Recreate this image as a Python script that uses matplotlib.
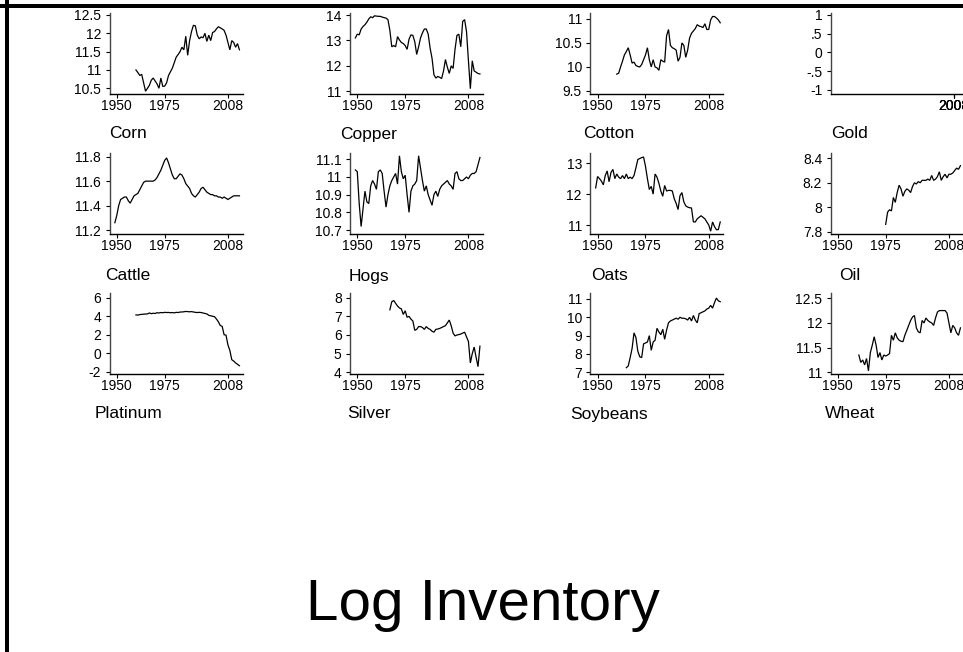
import numpy as np
import matplotlib
matplotlib.use("Agg")
import matplotlib.pyplot as plt
from matplotlib.patches import Rectangle

# ---------------- data ----------------
names = ["Corn", "Copper", "Cotton", "Gold",
         "Cattle", "Hogs", "Oats", "Oil",
         "Platinum", "Silver", "Soybeans", "Wheat"]

xtick_years = [1950, 1975, 2008]

p1_start = 1960
p1_vals = [11.00, 10.93, 10.85, 10.88, 10.65, 10.42, 10.50, 10.58, 10.72, 10.78, 10.70,
           10.62, 10.50, 10.78, 10.55, 10.56, 10.65, 10.85, 10.95, 11.05, 11.20, 11.35, 11.42,
           11.50, 11.62, 11.55, 11.92, 11.40, 11.80, 12.05, 12.22, 12.20, 11.95,
           11.85, 11.90, 11.88, 12.00, 11.78, 11.95, 11.80, 12.02, 12.05, 12.12,
           12.18, 12.15, 12.12, 12.08, 11.95, 11.75, 11.55, 11.80, 11.75, 11.62, 11.72, 11.55]
p1_ticks = [10.5, 11, 11.5, 12, 12.5]

p2_start = 1949
p2_vals = [13.10, 13.25, 13.22, 13.45, 13.55, 13.62, 13.72, 13.85, 13.93, 13.90, 13.97,
           13.96, 13.95, 13.95, 13.92, 13.90, 13.88, 13.82, 13.40, 12.75, 12.80, 12.75,
           13.15, 13.02, 12.92, 12.88, 12.80, 12.65, 13.05, 13.22, 13.20, 12.95, 12.45,
           12.75, 13.10, 13.30, 13.45, 13.45, 13.25, 12.70, 12.30, 11.65, 11.52, 11.58, 11.55,
           11.50, 11.80, 12.25, 11.95, 11.70, 12.00, 11.90, 12.65, 13.20, 13.25,
           12.75, 13.75, 13.82, 13.35, 12.20, 11.10, 12.20, 11.80, 11.75, 11.70, 11.68]
p2_ticks = [11, 12, 13, 14]

p3_start = 1960
p3_vals = [9.85, 9.87, 10.00, 10.12, 10.25, 10.32, 10.40, 10.25, 10.08, 10.10,
           10.03, 10.01, 10.00, 10.05, 10.15, 10.25, 10.40, 10.15, 10.00, 10.15, 10.00,
           9.98, 9.93, 10.15, 10.12, 10.10, 10.65, 10.78, 10.45, 10.40, 10.38, 10.35,
           10.12, 10.20, 10.50, 10.45, 10.20, 10.35, 10.60, 10.70, 10.75, 10.80, 10.88,
           10.85, 10.84, 10.82, 10.90, 10.78, 10.78, 10.98, 11.05, 11.05, 11.02, 10.98, 10.92]
p3_ticks = [9.5, 10, 10.5, 11]

p4_start = 1950
p4_vals = []
p4_ticks = [-1, -0.5, 0, 0.5, 1]

p5_start = 1949
p5_vals = [11.26, 11.32, 11.40, 11.45, 11.46, 11.47, 11.47, 11.44, 11.42, 11.45,
           11.48, 11.49, 11.50, 11.53, 11.56, 11.59, 11.60, 11.60, 11.60, 11.60, 11.60, 11.61,
           11.63, 11.66, 11.69, 11.73, 11.77, 11.79, 11.75, 11.70, 11.65, 11.62,
           11.62, 11.64, 11.66, 11.65, 11.62, 11.58, 11.56, 11.54, 11.50, 11.48, 11.47,
           11.49, 11.51, 11.54, 11.55, 11.53, 11.51, 11.50, 11.49, 11.49, 11.48,
           11.48, 11.47, 11.47, 11.46, 11.47, 11.46, 11.45, 11.46, 11.47, 11.48, 11.48, 11.48, 11.48]
p5_ticks = [11.2, 11.4, 11.6, 11.8]

p6_start = 1949
p6_vals = [11.04, 11.03, 10.85, 10.72, 10.82, 10.92, 10.86, 10.85, 10.95, 10.98, 10.96,
           10.93, 11.03, 11.04, 11.02, 10.92, 10.83, 10.90, 10.95, 10.98, 11.00, 11.02,
           10.96, 11.12, 11.03, 10.99, 11.01, 10.90, 10.80, 10.92, 10.95, 10.96, 10.98,
           11.12, 11.05, 10.98, 10.92, 10.95, 10.90, 10.87, 10.84, 10.90, 10.92,
           10.89, 10.93, 10.95, 10.96, 10.97, 10.98, 10.96, 10.95, 10.93, 11.02, 11.03,
           10.99, 10.98, 10.98, 10.99, 11.00, 10.99, 11.01, 11.02, 11.02, 11.03, 11.07, 11.11]
p6_ticks = [10.7, 10.8, 10.9, 11, 11.1]

p7_start = 1949
p7_vals = [12.20, 12.57, 12.50, 12.42, 12.30, 12.60, 12.75, 12.40, 12.70, 12.80,
           12.50, 12.65, 12.55, 12.50, 12.60, 12.50, 12.65, 12.50, 12.55, 12.50, 12.60,
           12.85, 13.12, 13.15, 13.18, 13.20, 12.90, 12.50, 12.15, 12.25, 12.00, 12.65,
           12.55, 12.35, 12.10, 11.93, 12.28, 12.10, 12.12, 12.12, 12.10, 11.85, 11.70,
           11.50, 11.95, 12.05, 11.75, 11.62, 11.58, 11.56, 11.55, 11.10, 11.10, 11.20, 11.25,
           11.30, 11.25, 11.20, 11.10, 11.00, 10.80, 11.10, 10.95, 10.85, 10.85, 11.10]
p7_ticks = [11, 12, 13]

p8_start = 1975
p8_vals = [7.86, 7.96, 7.98, 7.97, 8.08, 8.04, 8.12, 8.18, 8.15, 8.09,
           8.13, 8.15, 8.14, 8.12, 8.17, 8.20, 8.19, 8.21, 8.20, 8.22, 8.22, 8.22,
           8.23, 8.22, 8.26, 8.22, 8.23, 8.25, 8.29, 8.22, 8.25, 8.27,
           8.24, 8.27, 8.27, 8.28, 8.30, 8.32, 8.31, 8.34]
p8_ticks = [7.8, 8, 8.2, 8.4]

p9_start = 1960
p9_vals = [4.15, 4.12, 4.18, 4.20, 4.22, 4.24, 4.25, 4.35, 4.28, 4.32, 4.30,
           4.38, 4.35, 4.40, 4.38, 4.42, 4.40, 4.41, 4.38, 4.40, 4.36, 4.42,
           4.40, 4.45, 4.46, 4.48, 4.52, 4.50, 4.48, 4.50, 4.46, 4.42, 4.40, 4.42,
           4.40, 4.35, 4.30, 4.25, 4.10, 4.05, 4.00, 3.95, 3.70, 3.40,
           3.00, 2.90, 2.00, 1.95, 0.90, 0.30, -0.70, -0.85, -1.05, -1.20, -1.35]
p9_ticks = [-2, 0, 2, 4, 6]

p10_start = 1967
p10_vals = [7.35, 7.78, 7.85, 7.70, 7.55, 7.45, 7.40, 7.10, 7.30, 6.95, 7.00,
            6.85, 6.75, 6.25, 6.30, 6.45, 6.45, 6.40, 6.30, 6.45, 6.35, 6.30,
            6.20, 6.15, 6.30, 6.32, 6.35, 6.40, 6.45, 6.50, 6.65, 6.80, 6.50,
            6.10, 5.95, 6.00, 6.02, 6.05, 6.10, 6.15, 5.90, 5.65, 4.50, 5.00,
            5.35, 4.80, 4.30, 5.40]
p10_ticks = [4, 5, 6, 7, 8]

p11_start = 1965
p11_vals = [7.25, 7.35, 7.80, 8.30, 9.15, 8.90, 8.15, 7.85, 7.80, 8.55, 8.60,
            8.65, 9.00, 8.20, 8.65, 8.75, 9.40, 9.20, 9.05, 9.35, 8.80,
            9.30, 9.70, 9.80, 9.85, 9.90, 9.95, 9.90, 10.00, 9.95, 9.95, 9.92, 9.85,
            10.00, 9.80, 10.10, 9.85, 9.70, 10.20, 10.25, 10.30, 10.35, 10.45, 10.50,
            10.65, 10.50, 10.80, 11.05, 10.90, 10.85]
p11_ticks = [7, 8, 9, 10, 11]

p12_start = 1961
p12_vals = [11.35, 11.20, 11.25, 11.15, 11.28, 11.03, 11.40, 11.55, 11.72, 11.55,
            11.30, 11.40, 11.25, 11.35, 11.33, 11.35, 11.38, 11.75, 11.65, 11.80, 11.70,
            11.65, 11.63, 11.62, 11.75, 11.85, 11.95, 12.05, 12.12, 12.15, 11.90, 11.82,
            11.80, 12.05, 12.00, 12.10, 12.05, 12.02, 12.00, 11.95, 12.10, 12.22, 12.25,
            12.25, 12.25, 12.25, 12.20, 12.00, 11.80, 11.95, 11.90, 11.80, 11.75, 11.90]
p12_ticks = [11, 11.5, 12, 12.5]

starts = [p1_start, p2_start, p3_start, p4_start, p5_start, p6_start,
          p7_start, p8_start, p9_start, p10_start, p11_start, p12_start]
series = [p1_vals, p2_vals, p3_vals, p4_vals, p5_vals, p6_vals,
          p7_vals, p8_vals, p9_vals, p10_vals, p11_vals, p12_vals]
yticks = [p1_ticks, p2_ticks, p3_ticks, p4_ticks, p5_ticks, p6_ticks,
          p7_ticks, p8_ticks, p9_ticks, p10_ticks, p11_ticks, p12_ticks]

main_title = "Log Inventory"

# ---------------- layout / style ----------------
W, H = 963, 652
ylims = [(10.336, 12.546), (10.88, 14.07), (9.43, 11.117), (-1.115, 1.045),
         (11.165, 11.828), (10.676, 11.134), (10.70, 13.32), (7.779, 8.441),
         (-2.28, 6.48), (3.89, 8.236), (6.89, 11.31), (10.96, 12.6)]
xlim = (1946.2, 2015.6)

plt.rcParams['font.family'] = ['Liberation Sans', 'DejaVu Sans']

fig = plt.figure(figsize=(W / 100, H / 100), dpi=100)
fig.patch.set_facecolor('white')


def slab(v):
    s = '%g' % v
    if s.startswith('0.'):
        s = s[1:]
    elif s.startswith('-0.'):
        s = '-' + s[2:]
    return s


col_left = [109.5, 350.0, 590.3, 830.5]
ax_w = 133.0
row_top = [13.3, 153.3, 293.3]
ax_h = 81.0
label_x = [128, 369, 609, 850]
label_y = [134, 276, 414]

for i in range(12):
    r, c = divmod(i, 4)
    l = col_left[c]
    t = row_top[r]
    ax = fig.add_axes([l / W, 1 - (t + ax_h) / H, ax_w / W, ax_h / H])
    ax.set_facecolor('none')
    vals = series[i]
    if len(vals):
        yrs = np.arange(starts[i], starts[i] + len(vals))
        ax.plot(yrs, vals, color='black', lw=0.9, solid_joinstyle='miter')
        ax.set_xlim(*xlim)
        ax.set_xticks(xtick_years)
        ax.set_xticklabels([str(y) for y in xtick_years])
    else:
        ax.set_xlim(0, 1)
        ax.set_xticks([0.93, 0.93, 0.93])
        ax.set_xticklabels([str(y) for y in xtick_years])
    ax.set_ylim(*ylims[i])
    ax.set_yticks(yticks[i])
    ax.set_yticklabels([slab(v) for v in yticks[i]])
    for s in ['top', 'right']:
        ax.spines[s].set_visible(False)
    ax.spines['left'].set_color('#444444')
    ax.spines['left'].set_linewidth(1.0)
    ax.spines['bottom'].set_color('black')
    ax.spines['bottom'].set_linewidth(1.0)
    ax.tick_params(axis='y', direction='out', length=3, width=0.8, pad=3,
                   labelsize=10, colors='black')
    ax.tick_params(axis='x', direction='out', length=3, width=0.8, pad=0.5,
                   labelsize=10, colors='black')
    fig.text(label_x[c] / W, 1 - label_y[r] / H, names[i], ha='center',
             va='center', fontsize=12.5, color='black')

fig.text(483 / W, 1 - 605 / H, main_title, ha='center', va='center',
         fontsize=42, color='black')

# outer frame (cropped: only top and left edges visible)
fig.add_artist(Rectangle((0, 1 - 8 / H), 1, 4 / H, transform=fig.transFigure,
                         facecolor='black', edgecolor='none'))
fig.add_artist(Rectangle((5 / W, 0), 4 / W, 1, transform=fig.transFigure,
                         facecolor='black', edgecolor='none'))

fig.savefig('out.png', dpi=100)
